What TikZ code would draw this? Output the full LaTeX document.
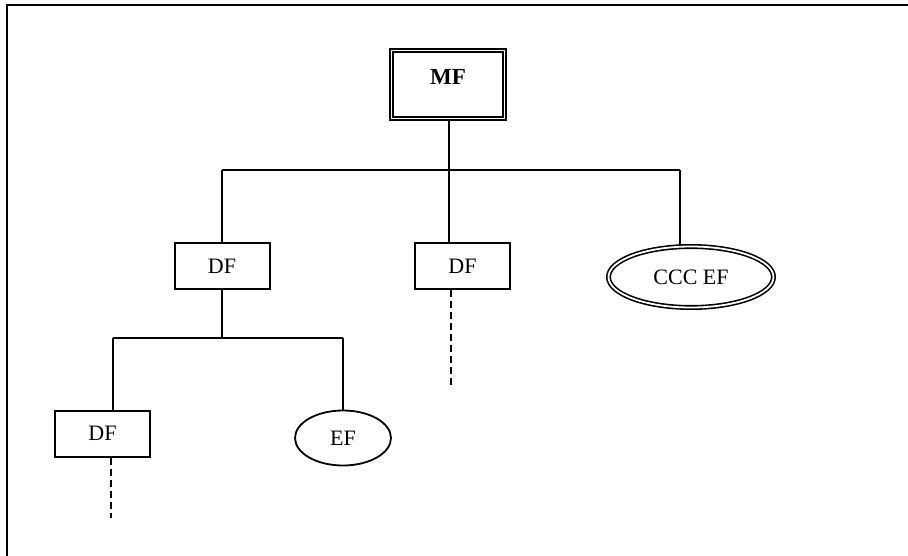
\documentclass[tikz,border=0pt]{standalone}
\usepackage{fontspec}
\setmainfont{Liberation Serif}
\usetikzlibrary{shapes.geometric}
\begin{document}
\begin{tikzpicture}[x=1pt,y=-1pt,
  every node/.style={font=\fontsize{22}{26}\selectfont, inner sep=0pt},
  boxnode/.style={draw, line width=2pt, rectangle, minimum width=95pt, minimum height=46pt},
  dblbox/.style={draw, rectangle, double, line width=1.6pt, double distance=1.8pt, minimum width=113pt, minimum height=68pt},
  ellnode/.style={draw, ellipse, line width=1.8pt, minimum width=96pt, minimum height=55pt},
  dblell/.style={draw, ellipse, double, line width=1.6pt, double distance=1.8pt, minimum width=165pt, minimum height=61pt},
  conn/.style={line width=1.8pt},
  dconn/.style={line width=1.8pt, dash pattern=on 7pt off 4pt}]
\useasboundingbox (0,0) rectangle (908,556);
\draw[line width=2.2pt] (6.8,560) -- (6.8,5) -- (910,5);
\node[dblbox, font=\fontsize{23}{27}\selectfont\bfseries, text height=15pt, text depth=14pt] (mf) at (448,84.5) {MF};
\node[boxnode] (df1) at (222,266) {DF};
\node[boxnode] (df2) at (462.5,266) {DF};
\node[dblell] (ccc) at (691,277) {CCC EF};
\node[boxnode] (df3) at (102.5,433.5) {DF};
\node[ellnode] (ef) at (343,438) {EF};
\coordinate (hL) at (222,170);
\coordinate (hM) at (449,170);
\coordinate (hR) at (680,170);
\coordinate (gL) at (113,338);
\coordinate (gR) at (343,338);
\coordinate (e2) at (451,385);
\coordinate (e3) at (111,518);
\draw[conn] (mf.south -| hM) -- (hM);
\draw[conn] (hL) -- (hR);
\draw[conn] (hL) -- (df1.north);
\draw[conn] (hM) -- (hM |- df2.north);
\draw[conn] (hR) -- (hR |- ccc.north);
\draw[conn] (df1.south) -- (df1.south |- gL);
\draw[conn] (gL) -- (gR);
\draw[conn] (gL) -- (gL |- df3.north);
\draw[conn] (gR) -- (ef.north);
\draw[dconn] (e2 |- df2.south) -- (e2);
\draw[dconn] (e3 |- df3.south) -- (e3);
\end{tikzpicture}
\end{document}
